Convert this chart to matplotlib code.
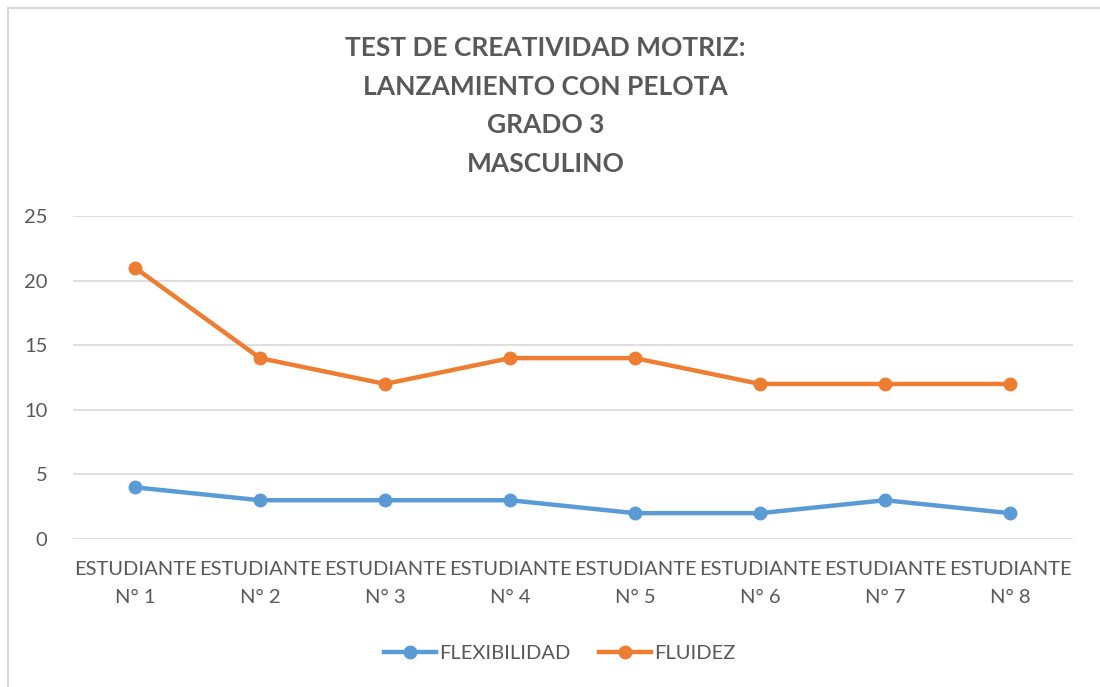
import matplotlib
matplotlib.use('Agg')
import matplotlib.pyplot as plt
from matplotlib.patches import Rectangle

# data
categories = ['ESTUDIANTE\nN° 1', 'ESTUDIANTE\nN° 2', 'ESTUDIANTE\nN° 3', 'ESTUDIANTE\nN° 4',
              'ESTUDIANTE\nN° 5', 'ESTUDIANTE\nN° 6', 'ESTUDIANTE\nN° 7', 'ESTUDIANTE\nN° 8']
flexibilidad = [4, 3, 3, 3, 2, 2, 3, 2]
fluidez = [21, 14, 12, 14, 14, 12, 12, 12]
yticks = [0, 5, 10, 15, 20, 25]

TEXT = '#595959'
BLUE = '#5B9BD5'
ORANGE = '#ED7D31'

plt.rcParams['font.family'] = ['Lato', 'DejaVu Sans']

fig = plt.figure(figsize=(11, 6.87), dpi=100)
ax = fig.add_axes([72.5 / 1100, 1 - 539 / 687, 1000 / 1100, 323 / 687])

x = list(range(len(categories)))
ax.plot(x, flexibilidad, '-o', color=BLUE, lw=3.2, markersize=9, label='FLEXIBILIDAD')
ax.plot(x, fluidez, '-o', color=ORANGE, lw=3.2, markersize=9, label='FLUIDEZ')

ax.set_xlim(-0.5, len(categories) - 0.5)
ax.set_ylim(0, 25)
ax.set_yticks(yticks)
ax.set_xticks(x)
ax.set_xticklabels(categories, fontsize=14.5, color=TEXT, linespacing=1.75)
ax.tick_params(axis='y', labelsize=14.5, labelcolor=TEXT, length=0, pad=18)
ax.tick_params(axis='x', length=0, pad=16)
ax.grid(axis='y', color='#D9D9D9', lw=1.2)
ax.set_axisbelow(True)
for s in ax.spines.values():
    s.set_visible(False)

fig.text(0.496, 1 - 106 / 687, 'TEST DE CREATIVIDAD MOTRIZ:\nLANZAMIENTO CON PELOTA\nGRADO 3\nMASCULINO',
         ha='center', va='center', fontsize=19, fontweight='bold', color=TEXT, linespacing=1.74)

ax.legend(loc='center', bbox_to_anchor=(0.509, 1 - 653 / 687), bbox_transform=fig.transFigure,
          ncol=2, frameon=False, fontsize=14.5, labelcolor=TEXT, handlelength=2.6,
          columnspacing=1.4, handletextpad=0.15)

fig.patches.append(Rectangle((8 / 1100, -0.01), 1.02, 1 - 8 / 687 + 0.01, transform=fig.transFigure,
                             fill=False, edgecolor='#D9D9D9', lw=1.5))

fig.savefig('out.png', dpi=100)
